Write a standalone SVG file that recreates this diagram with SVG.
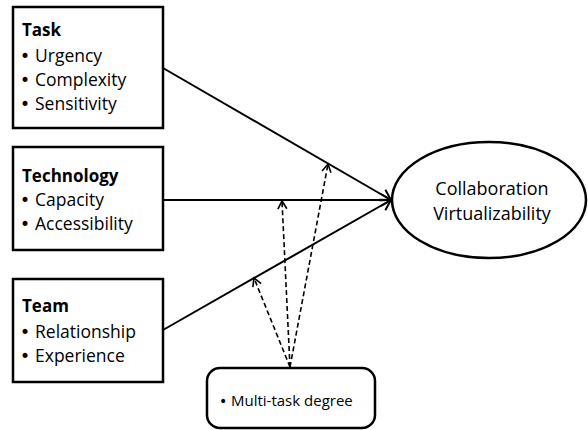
<svg xmlns="http://www.w3.org/2000/svg" width="588" height="430" viewBox="0 0 588 430">
  <defs>
    <marker id="arrowOpen" markerUnits="userSpaceOnUse" markerWidth="16" markerHeight="16" refX="12" refY="7" orient="auto">
      <path d="M2,1 L12,7 L2,13" fill="none" stroke="#000" stroke-width="2"/>
    </marker>
    <marker id="arrowSmall" markerUnits="userSpaceOnUse" markerWidth="14" markerHeight="14" refX="10" refY="6" orient="auto">
      <path d="M2,1.5 L10,6 L2,10.5" fill="none" stroke="#000" stroke-width="1.6"/>
    </marker>
  </defs>
  <style>
    .box { fill: #fff; stroke: #000; stroke-width: 2.5; }
    .title { font-family: "Open Sans", "Liberation Sans", sans-serif; font-size: 17px; font-weight: bold; fill: #000; }
    .item { font-family: "Open Sans", "Liberation Sans", sans-serif; font-size: 17.5px; fill: #000; }
    .bullet { font-family: "DejaVu Sans", sans-serif; font-size: 17px; fill: #000; }
    .center { font-family: "Open Sans", "Liberation Sans", sans-serif; font-size: 18px; fill: #000; text-anchor: middle; }
    .small { font-family: "Open Sans", "Liberation Sans", sans-serif; font-size: 15px; fill: #000; }
    .link { fill: none; stroke: #000; stroke-width: 2; marker-end: url(#arrowOpen); }
    .mod { fill: none; stroke: #000; stroke-width: 1.6; stroke-dasharray: 5 3; marker-end: url(#arrowSmall); }
  </style>

  <rect width="588" height="430" fill="#fff"/>

  <!-- connectors -->
  <g id="connectors">
    <line class="link" x1="163" y1="68" x2="391" y2="200"/>
    <line class="link" x1="163" y1="200" x2="391" y2="200"/>
    <line class="link" x1="163" y1="330" x2="391" y2="200"/>
    <line class="mod" x1="290" y1="367" x2="328" y2="164"/>
    <line class="mod" x1="290" y1="367" x2="282" y2="201"/>
    <line class="mod" x1="290" y1="367" x2="254" y2="278"/>
  </g>

  <g id="task">
    <rect class="box" x="13" y="7" width="150" height="121"/>
    <text class="title" x="22" y="36">Task</text>
    <text class="bullet" x="20" y="62">•</text><text class="item" x="35" y="62">Urgency</text>
    <text class="bullet" x="20" y="86">•</text><text class="item" x="35" y="86">Complexity</text>
    <text class="bullet" x="20" y="110">•</text><text class="item" x="35" y="110">Sensitivity</text>
  </g>

  <g id="technology">
    <rect class="box" x="13" y="147" width="150" height="103"/>
    <text class="title" x="22" y="182">Technology</text>
    <text class="bullet" x="20" y="206">•</text><text class="item" x="35" y="206">Capacity</text>
    <text class="bullet" x="20" y="230">•</text><text class="item" x="35" y="230">Accessibility</text>
  </g>

  <g id="team">
    <rect class="box" x="13" y="279" width="150" height="103"/>
    <text class="title" x="22" y="312">Team</text>
    <text class="bullet" x="20" y="338">•</text><text class="item" x="35" y="338">Relationship</text>
    <text class="bullet" x="20" y="362">•</text><text class="item" x="35" y="362">Experience</text>
  </g>

  <g id="virtualizability">
    <ellipse class="box" cx="489" cy="200" rx="97" ry="58"/>
    <text class="center" x="492" y="195">Collaboration</text>
    <text class="center" x="492" y="220">Virtualizability</text>
  </g>

  <g id="multitask">
    <rect class="box" x="207" y="368" width="168" height="60" rx="13" ry="13"/>
    <text class="bullet" x="219" y="406" style="font-size:14px">•</text>
    <text class="small" x="231" y="406">Multi-task degree</text>
  </g>
</svg>
